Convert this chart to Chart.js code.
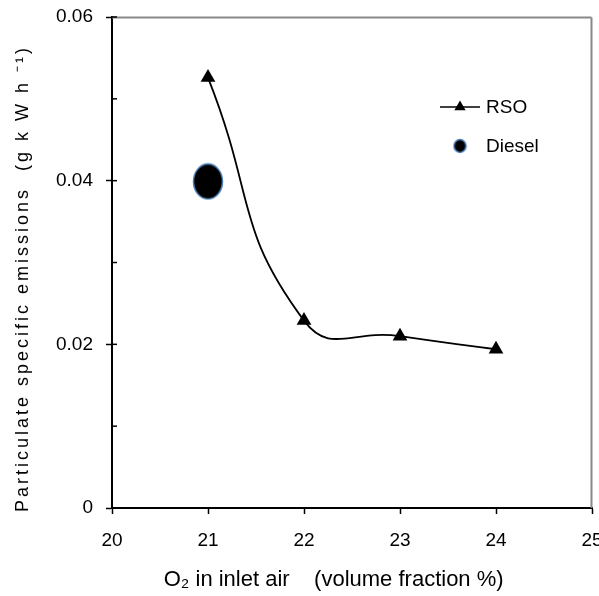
<!DOCTYPE html>
<html>
<head>
<meta charset="utf-8">
<script src="https://cdn.jsdelivr.net/npm/chart.js@4"></script>
<style>
html,body{margin:0;padding:0;background:#fff;}
#wrap{width:599px;height:596px;position:relative;}
</style>
</head>
<body>
<div id="wrap"><canvas id="c" width="599" height="596"></canvas></div>
<script>
// ---- data ----
const o2Fraction = [21, 22, 23, 24];
const rsoEmissions = [0.0526, 0.0229, 0.0210, 0.0194];
const dieselO2 = [21];
const dieselEmissions = [0.0399];
const yTickLabels = ['0', '', '0.02', '', '0.04', '', '0.06'];
const xTickLabels = ['20', '21', '22', '23', '24', '25'];
const seriesNames = ['RSO', 'Diesel'];
const xTitle = 'O\u2082 in inlet air    (volume fraction %)      ';
const yTitle = 'Particulate specific emissions  (g k W h \u207B\u00B9)    ';

const FONT = "'Liberation Sans', Arial, sans-serif";

// ellipse marker for Diesel
function ellipseMarker(w, h, lw) {
  const cv = document.createElement('canvas');
  cv.width = w + lw * 2; cv.height = h + lw * 2;
  const c = cv.getContext('2d');
  c.beginPath();
  c.ellipse(cv.width / 2, cv.height / 2, w / 2, h / 2, 0, 0, Math.PI * 2);
  c.fillStyle = '#000';
  c.fill();
  c.lineWidth = lw;
  c.strokeStyle = '#4a7ebb';
  c.stroke();
  return cv;
}
const bigDiesel = ellipseMarker(29, 35, 1.5);
const smallDiesel = ellipseMarker(12, 13, 1.5);

// letter-spaced y title
const spacingPlugin = {
  id: 'spacing',
  beforeDraw(chart) {
    const ys = chart.scales.y;
    if (!ys._wrapped) {
      const orig = ys.drawTitle;
      ys.drawTitle = function () {
        const ctx = this.ctx;
        ctx.save();
        ctx.letterSpacing = '3px';
        orig.apply(this, arguments);
        ctx.restore();
      };
      ys._wrapped = true;
    }
  }
};

// grey frame (top/right), inner tick marks on y axis, custom legend
const extrasPlugin = {
  id: 'extras',
  afterDraw(chart) {
    const ctx = chart.ctx;
    const ys = chart.scales.y;
    const xs = chart.scales.x;
    const area = chart.chartArea;
    ctx.save();
    // frame: top and right edges
    const fx = Math.round(xs.getPixelForValue(xs.max)) - 0.5;
    const fy = Math.round(ys.getPixelForValue(ys.max)) + 0.5;
    const by = ys.getPixelForValue(ys.min);
    ctx.strokeStyle = '#888';
    ctx.lineWidth = 2;
    ctx.beginPath();
    ctx.moveTo(area.left, fy);
    ctx.lineTo(fx, fy);
    ctx.stroke();
    ctx.beginPath();
    ctx.moveTo(fx, fy);
    ctx.lineTo(fx, by);
    ctx.stroke();
    ctx.strokeStyle = '#000';
    ctx.lineWidth = 1.5;
    ys.ticks.forEach((t, i) => {
      const py = ys.getPixelForValue(t.value);
      if (i === 0) return;
      ctx.beginPath();
      ctx.moveTo(area.left, py);
      ctx.lineTo(area.left + 5, py);
      ctx.stroke();
    });
    // legend
    const lx = area.left + 348;
    const ly1 = area.top + 90;
    const ly2 = area.top + 129;
    ctx.lineWidth = 1.5;
    ctx.beginPath();
    ctx.moveTo(lx - 20, ly1);
    ctx.lineTo(lx + 20, ly1);
    ctx.stroke();
    const r = 6.5;
    ctx.fillStyle = '#000';
    ctx.beginPath();
    ctx.moveTo(lx, ly1 - r);
    ctx.lineTo(lx + r * 0.866, ly1 + r / 2);
    ctx.lineTo(lx - r * 0.866, ly1 + r / 2);
    ctx.closePath();
    ctx.fill();
    ctx.drawImage(smallDiesel, lx - smallDiesel.width / 2, ly2 - smallDiesel.height / 2);
    ctx.font = '19px ' + FONT;
    ctx.textBaseline = 'middle';
    ctx.textAlign = 'left';
    ctx.fillText(seriesNames[0], lx + 26, ly1 + 1);
    ctx.fillText(seriesNames[1], lx + 26, ly2 + 1);
    ctx.restore();
  }
};

const rsoPoints = o2Fraction.map((x, i) => ({ x: x, y: rsoEmissions[i] }));
const dieselPoints = dieselO2.map((x, i) => ({ x: x, y: dieselEmissions[i] }));

function noPad(s) { s.paddingLeft = 0; s.paddingRight = 0; s.paddingTop = 0; s.paddingBottom = 0; }

new Chart(document.getElementById('c'), {
  type: 'line',
  data: {
    datasets: [
      {
        label: seriesNames[0],
        data: rsoPoints,
        borderColor: '#000',
        backgroundColor: '#000',
        borderWidth: 1.8,
        tension: 0.5,
        pointStyle: 'triangle',
        pointRadius: 8.5,
        pointBorderWidth: 0,
        pointBackgroundColor: '#000',
        fill: false
      },
      {
        label: seriesNames[1],
        data: dieselPoints,
        showLine: false,
        pointStyle: bigDiesel,
        pointRadius: 18
      }
    ]
  },
  options: {
    responsive: false,
    animation: false,
    layout: { autoPadding: false, padding: { left: 0, right: 7, top: 17, bottom: 0 } },
    plugins: { legend: { display: false }, tooltip: { enabled: false } },
    scales: {
      x: {
        type: 'linear',
        min: 20, max: 25,
        position: 'bottom',
        afterFit(s) { s.height = 88; noPad(s); },
        ticks: {
          stepSize: 1,
          color: '#000',
          padding: 15,
          font: { family: FONT, size: 19 },
          callback: (v, i) => xTickLabels[i]
        },
        grid: { drawOnChartArea: false, drawTicks: true, tickLength: 6, tickWidth: 1.5, tickColor: '#000' },
        border: { display: true, color: '#000', width: 2 },
        title: {
          display: true,
          text: xTitle,
          color: '#000',
          font: { family: FONT, size: 22 },
          padding: { top: 0, bottom: 3 }
        }
      },
      y: {
        type: 'linear',
        min: 0, max: 0.06,
        position: 'left',
        afterFit(s) { s.width = 112; noPad(s); },
        ticks: {
          stepSize: 0.01,
          color: '#000',
          padding: 13,
          font: { family: FONT, size: 19 },
          callback: (v, i) => yTickLabels[i]
        },
        grid: {
          drawOnChartArea: false, drawTicks: true, tickLength: 6, tickWidth: 1.5,
          tickColor: (c) => (c.index % 2 === 0 ? '#000' : 'rgba(0,0,0,0)')
        },
        border: { display: true, color: '#000', width: 2 },
        title: {
          display: true,
          text: yTitle,
          color: '#000',
          font: { family: FONT, size: 18 },
          padding: { top: 12, bottom: 0 }
        }
      }
    }
  },
  plugins: [spacingPlugin, extrasPlugin]
});
</script>
</body>
</html>
